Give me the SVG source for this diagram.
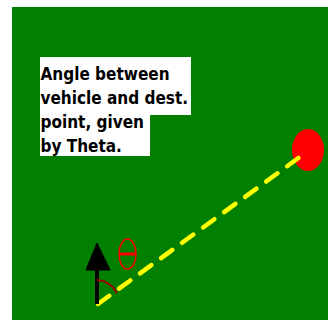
<svg xmlns="http://www.w3.org/2000/svg" width="328" height="321" viewBox="0 0 328 321">
<style>
.t{font-family:"DejaVu Sans Condensed","DejaVu Sans",Verdana,sans-serif;font-stretch:condensed;font-weight:bold;font-size:17px;fill:#000}
</style>
<rect width="328" height="321" fill="#fff"/>
<rect x="12" y="7" width="316" height="313" fill="#007f00"/>
<g id="label">
<path d="M40 57H191V115H150V156H40Z" fill="#fff"/>
<text class="t" x="40.5" y="80">Angle between</text>
<text class="t" x="40.5" y="104">vehicle and dest.</text>
<text class="t" x="40.5" y="128">point, given</text>
<text class="t" x="40.5" y="152">by Theta.</text>
</g>
<g id="destination">
<ellipse cx="308" cy="150" rx="16" ry="21" fill="#f00"/>
</g>
<g id="connectors">
<line x1="98" y1="304" x2="308" y2="151" stroke="#ff0" stroke-width="4.5" stroke-linecap="round" stroke-dasharray="14 12"/>
</g>
<g id="vehicle">
<line x1="97" y1="268" x2="97" y2="304" stroke="#000" stroke-width="4"/>
<path d="M97 243L110 270H86Z" fill="#000" stroke="#000" stroke-width="1" stroke-linejoin="round"/>
</g>
<g id="angle">
<path d="M97 280A24 24 0 0 1 117 293" fill="none" stroke="#a00000" stroke-width="2"/>
<ellipse cx="127.5" cy="254" rx="8.5" ry="15" fill="none" stroke="#f00" stroke-width="1.5"/>
<line x1="119" y1="254" x2="136" y2="254" stroke="#f00" stroke-width="3"/>
</g>
</svg>
